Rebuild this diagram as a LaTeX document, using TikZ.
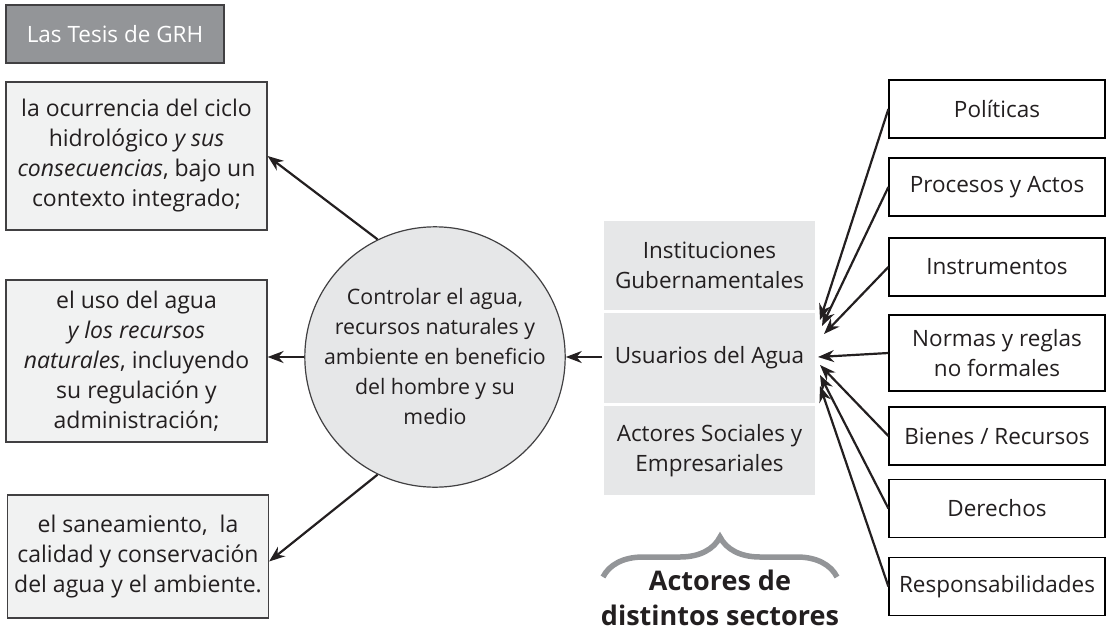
\documentclass[tikz,border=0pt]{standalone}
\usepackage{fontspec}
\setmainfont{Open Sans}
\usepackage{tikz}
\usetikzlibrary{positioning,arrows.meta,decorations.pathreplacing}
\definecolor{grisoscuro}{HTML}{939598}
\definecolor{grisclaro}{HTML}{E6E7E8}
\definecolor{grisfondo}{HTML}{F1F2F2}
\definecolor{borde}{HTML}{414042}
\definecolor{texto}{HTML}{231F20}
\tikzstyle{titulo} = [draw=borde, fill=grisoscuro, text=white, line width=1.2pt, minimum width=218pt, minimum height=58pt, font=\fontsize{22.5}{30}\selectfont]
\tikzstyle{tesis} = [draw=borde, fill=grisfondo, rectangle, line width=1.2pt, minimum width=261pt, align=center, text=texto, font=\fontsize{23}{30}\selectfont]
\tikzstyle{circulo} = [draw=borde, fill=grisclaro, circle, line width=1.2pt, minimum size=250pt, inner sep=0pt, align=center, text=texto, font=\fontsize{21.3}{30}\selectfont]
\tikzstyle{actor} = [draw=white, fill=grisclaro, line width=1.5pt, minimum width=213pt, minimum height=91pt, align=center, text=texto, font=\fontsize{22.5}{30}\selectfont]
\tikzstyle{elemento} = [draw=black, fill=white, line width=1.2pt, minimum width=216pt, align=center, text=texto, font=\fontsize{22.5}{30}\selectfont]
\tikzstyle{flecha} = [-{Stealth[length=16pt,width=12pt]}, line width=2.2pt, texto]

\begin{document}
\begin{tikzpicture}[x=1pt, y=-1pt]
	\useasboundingbox (0,0) rectangle (1110,634);
	\node[titulo](grh) at (115,34) {Las Tesis de GRH};
	\node[tesis, minimum height=148pt](ciclo) at (136.5,156) {la ocurrencia del ciclo\\hidrológico \textit{y sus}\\\textit{consecuencias}, bajo un\\contexto integrado;};
	\node[tesis, minimum height=162pt](uso) at (136.5,361) {el uso del agua\\\textit{y los recursos}\\\textit{naturales}, incluyendo\\su regulación y\\administración;};
	\node[tesis, minimum height=123pt](saneamiento) at (138,556.5) {el saneamiento,\ \ la\\calidad y conservación\\del agua y el ambiente.};
	\node[circulo](control) at (435,357) {Controlar el agua,\\recursos naturales y\\ambiente en beneficio\\del hombre y su\\medio};

	\node[actor](instituciones) at (709.5,265.5) {Instituciones\\Gubernamentales};
	\node[actor, below=0pt of instituciones](usuarios) {Usuarios del Agua};
	\node[actor, below=0pt of usuarios](empresas) {Actores Sociales y\\Empresariales};
	\draw[decorate, decoration={brace, amplitude=40pt}, grisoscuro, line width=5.5pt] (603,577) -- (837,577);
	\node[text=texto, align=center, font=\fontsize{27}{35}\selectfont\bfseries](sectores) at (720,598) {Actores de\\distintos sectores};

	\node[elemento, minimum height=58pt](politicas) at (997,109) {Políticas};
	\node[elemento, minimum height=58pt](procesos) at (997,187) {Procesos y Actos};
	\node[elemento, minimum height=58pt](instrumentos) at (997,267) {Instrumentos};
	\node[elemento, minimum height=76pt](normas) at (997,353) {Normas y reglas\\no formales};
	\node[elemento, minimum height=58pt](bienes) at (997,436) {Bienes / Recursos};
	\node[elemento, minimum height=58pt](derechos) at (997,508.5) {Derechos};
	\node[elemento, minimum height=58pt](responsabilidades) at (997,586.5) {Responsabilidades};

	\coordinate (u1) at (820,320);
	\coordinate (u2) at (822,326);
	\coordinate (u3) at (824,334);
	\coordinate (u4) at (818,357);
	\coordinate (u5) at (820,365);
	\coordinate (u6) at (820,375);
	\coordinate (u7) at (820,386);

	\draw[flecha] (control.116) -- (ciclo.east);
	\draw[flecha] (control.west) -- (control.west -| uso.east);
	\draw[flecha] (control.244) -- ([yshift=-5pt]saneamiento.east);
	\draw[flecha] (usuarios.west |- control.east) -- (control.east);
	\draw[flecha] (politicas.west) -- (u1);
	\draw[flecha] (procesos.west) -- (u2);
	\draw[flecha] (instrumentos.west) -- (u3);
	\draw[flecha] (normas.west) -- (u4);
	\draw[flecha] (bienes.west) -- (u5);
	\draw[flecha] (derechos.west) -- (u6);
	\draw[flecha] (responsabilidades.west) -- (u7);
\end{tikzpicture}
\end{document}
